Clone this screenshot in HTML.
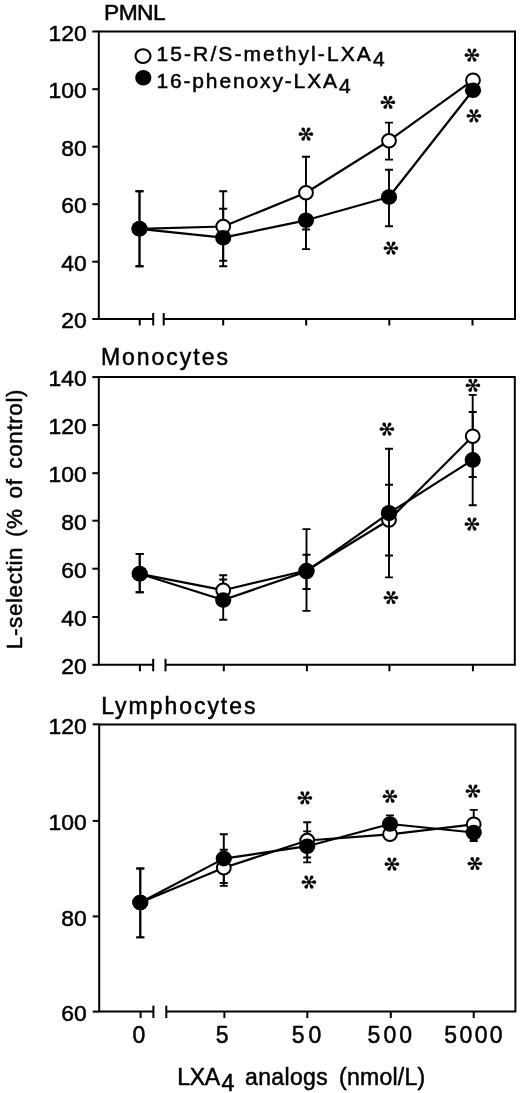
<!DOCTYPE html>
<html><head><meta charset="utf-8"><title>L-selectin LXA4 analogs</title>
<style>
html,body{margin:0;padding:0;background:#fff;}
body{width:520px;height:1093px;overflow:hidden;}
svg{display:block;}
text{font-family:'Liberation Sans', Arial, Helvetica, sans-serif;fill:#000;stroke:#000;stroke-width:0.5px;}
text.a{stroke-width:0.3px;font-family:'DejaVu Sans',sans-serif;font-size:19px;text-anchor:middle;dominant-baseline:central;}
.ax,.ser,.eb{fill:none;stroke:#000;}
.ax{stroke-width:2;}
.ser{stroke-width:2.2;stroke-linejoin:round;}
.eb{stroke-width:1.9;}
line{stroke:#000;}
text.hv{stroke-width:0.9px;}
</style></head>
<body>
<svg width="520" height="1093" viewBox="0 0 520 1093">
<path class="ax" d="M98.8 319 L98.8 31.5 L515 31.5 L515 319 L163.7 319"/>
<path class="ax" d="M97.8 319 L153.2 319"/>
<line x1="153.2" y1="313" x2="153.2" y2="325.5" stroke-width="2"/>
<line x1="163.7" y1="313" x2="163.7" y2="325.5" stroke-width="2"/>
<line x1="139.7" y1="319" x2="139.7" y2="325.5" stroke-width="2"/>
<line x1="223.2" y1="319" x2="223.2" y2="325.5" stroke-width="2"/>
<line x1="306.2" y1="319" x2="306.2" y2="325.5" stroke-width="2"/>
<line x1="389.3" y1="319" x2="389.3" y2="325.5" stroke-width="2"/>
<line x1="472.5" y1="319" x2="472.5" y2="325.5" stroke-width="2"/>
<line x1="92.3" y1="31.5" x2="98.8" y2="31.5" stroke-width="2"/>
<text transform="translate(86.7 40.7) scale(1.04 1)" font-size="22" text-anchor="end">120</text>
<line x1="92.3" y1="89.2" x2="98.8" y2="89.2" stroke-width="2"/>
<text transform="translate(86.7 98.4) scale(1.04 1)" font-size="22" text-anchor="end">100</text>
<line x1="92.3" y1="146.7" x2="98.8" y2="146.7" stroke-width="2"/>
<text transform="translate(86.7 155.9) scale(1.04 1)" font-size="22" text-anchor="end">80</text>
<line x1="92.3" y1="204.2" x2="98.8" y2="204.2" stroke-width="2"/>
<text transform="translate(86.7 213.4) scale(1.04 1)" font-size="22" text-anchor="end">60</text>
<line x1="92.3" y1="261.7" x2="98.8" y2="261.7" stroke-width="2"/>
<text transform="translate(86.7 270.9) scale(1.04 1)" font-size="22" text-anchor="end">40</text>
<line x1="92.3" y1="319" x2="98.8" y2="319" stroke-width="2"/>
<text transform="translate(86.7 328.2) scale(1.04 1)" font-size="22" text-anchor="end">20</text>
<text x="104" y="20.4" font-size="22.8" letter-spacing="-0.55">PMNL</text>
<path class="ser" d="M139.5 228.8 L223.2 226.5 L306 192.8 L389 140.7 L473 80.2"/>
<path class="ser" d="M139.5 228.8 L223.2 237.7 L306 220.3 L389 197 L473 90.3"/>
<path class="eb" d="M139.5 191.3 L139.5 266.3 M135.5 191.3 L143.5 191.3 M135.5 266.3 L143.5 266.3"/>
<path class="eb" d="M223.2 191.3 L223.2 260.8 M219.2 191.3 L227.2 191.3 M219.2 260.8 L227.2 260.8"/>
<path class="eb" d="M306 156.8 L306 229.5 M302 156.8 L310 156.8 M302 229.5 L310 229.5"/>
<path class="eb" d="M389 122.6 L389 159.6 M385 122.6 L393 122.6 M385 159.6 L393 159.6"/>
<path class="eb" d="M139.5 191.3 L139.5 266.3 M135.5 191.3 L143.5 191.3 M135.5 266.3 L143.5 266.3"/>
<path class="eb" d="M223.2 208.8 L223.2 266.3 M219.2 208.8 L227.2 208.8 M219.2 266.3 L227.2 266.3"/>
<path class="eb" d="M306 191.5 L306 249.1 M302 191.5 L310 191.5 M302 249.1 L310 249.1"/>
<path class="eb" d="M389 169.8 L389 226.2 M385 169.8 L393 169.8 M385 226.2 L393 226.2"/>
<ellipse cx="139.5" cy="228.8" rx="6.9" ry="6.75" fill="#fff" stroke="#000" stroke-width="2"/>
<ellipse cx="223.2" cy="226.5" rx="6.9" ry="6.75" fill="#fff" stroke="#000" stroke-width="2"/>
<ellipse cx="306" cy="192.8" rx="6.9" ry="6.75" fill="#fff" stroke="#000" stroke-width="2"/>
<ellipse cx="389" cy="140.7" rx="6.9" ry="6.75" fill="#fff" stroke="#000" stroke-width="2"/>
<ellipse cx="473" cy="80.2" rx="6.9" ry="6.75" fill="#fff" stroke="#000" stroke-width="2"/>
<ellipse cx="139.5" cy="228.8" rx="8.1" ry="7.8" fill="#000"/>
<ellipse cx="223.2" cy="237.7" rx="8.1" ry="7.8" fill="#000"/>
<ellipse cx="306" cy="220.3" rx="8.1" ry="7.8" fill="#000"/>
<ellipse cx="389" cy="197" rx="8.1" ry="7.8" fill="#000"/>
<ellipse cx="473" cy="90.3" rx="8.1" ry="7.8" fill="#000"/>
<text class="a" x="306.2" y="134.3" transform="rotate(90 306.2 134.3)">&#x273B;</text>
<text class="a" x="388.2" y="102.4" transform="rotate(90 388.2 102.4)">&#x273B;</text>
<text class="a" x="390.6" y="248.2" transform="rotate(90 390.6 248.2)">&#x273B;</text>
<text class="a" x="472" y="55.1" transform="rotate(90 472 55.1)">&#x273B;</text>
<text class="a" x="474.2" y="115.9" transform="rotate(90 474.2 115.9)">&#x273B;</text>
<path class="ax" d="M98.8 664.8 L98.8 377 L514.8 377 L514.8 664.8 L165.5 664.8"/>
<path class="ax" d="M97.8 664.8 L153.2 664.8"/>
<line x1="153.2" y1="658.8" x2="153.2" y2="671.3" stroke-width="2"/>
<line x1="165.5" y1="658.8" x2="165.5" y2="671.3" stroke-width="2"/>
<line x1="139.9" y1="664.8" x2="139.9" y2="671.3" stroke-width="2"/>
<line x1="223.8" y1="664.8" x2="223.8" y2="671.3" stroke-width="2"/>
<line x1="306.9" y1="664.8" x2="306.9" y2="671.3" stroke-width="2"/>
<line x1="389.4" y1="664.8" x2="389.4" y2="671.3" stroke-width="2"/>
<line x1="472.9" y1="664.8" x2="472.9" y2="671.3" stroke-width="2"/>
<line x1="92.3" y1="377.1" x2="98.8" y2="377.1" stroke-width="2"/>
<text transform="translate(86.7 386.3) scale(1.04 1)" font-size="22" text-anchor="end">140</text>
<line x1="92.3" y1="425.1" x2="98.8" y2="425.1" stroke-width="2"/>
<text transform="translate(86.7 434.3) scale(1.04 1)" font-size="22" text-anchor="end">120</text>
<line x1="92.3" y1="473.2" x2="98.8" y2="473.2" stroke-width="2"/>
<text transform="translate(86.7 482.4) scale(1.04 1)" font-size="22" text-anchor="end">100</text>
<line x1="92.3" y1="520.7" x2="98.8" y2="520.7" stroke-width="2"/>
<text transform="translate(86.7 529.9) scale(1.04 1)" font-size="22" text-anchor="end">80</text>
<line x1="92.3" y1="568.7" x2="98.8" y2="568.7" stroke-width="2"/>
<text transform="translate(86.7 577.9) scale(1.04 1)" font-size="22" text-anchor="end">60</text>
<line x1="92.3" y1="617" x2="98.8" y2="617" stroke-width="2"/>
<text transform="translate(86.7 626.2) scale(1.04 1)" font-size="22" text-anchor="end">40</text>
<line x1="92.3" y1="664.8" x2="98.8" y2="664.8" stroke-width="2"/>
<text transform="translate(86.7 674) scale(1.04 1)" font-size="22" text-anchor="end">20</text>
<text x="101" y="364.6" font-size="23" letter-spacing="1.96">Monocytes</text>
<path class="ser" d="M139.7 573.8 L223.2 590.2 L306.5 570.5 L389 520 L472.7 436.3"/>
<path class="ser" d="M139.7 573.8 L223.2 600 L306.5 571.4 L389 513.1 L472.7 459.9"/>
<path class="eb" d="M139.7 553.9 L139.7 592.2 M135.7 553.9 L143.7 553.9 M135.7 592.2 L143.7 592.2"/>
<path class="eb" d="M223.2 575.2 L223.2 605 M219.2 575.2 L227.2 575.2 M219.2 605 L227.2 605"/>
<path class="eb" d="M306.5 529.1 L306.5 610.9 M302.5 529.1 L310.5 529.1 M302.5 610.9 L310.5 610.9"/>
<path class="eb" d="M389 484.7 L389 555.5 M385 484.7 L393 484.7 M385 555.5 L393 555.5"/>
<path class="eb" d="M472.7 394.9 L472.7 477 M468.7 394.9 L476.7 394.9 M468.7 477 L476.7 477"/>
<path class="eb" d="M139.7 553.9 L139.7 592.2 M135.7 553.9 L143.7 553.9 M135.7 592.2 L143.7 592.2"/>
<path class="eb" d="M223.2 579.5 L223.2 619.8 M219.2 579.5 L227.2 579.5 M219.2 619.8 L227.2 619.8"/>
<path class="eb" d="M306.5 554.8 L306.5 589 M302.5 554.8 L310.5 554.8 M302.5 589 L310.5 589"/>
<path class="eb" d="M389 448.8 L389 577.4 M385 448.8 L393 448.8 M385 577.4 L393 577.4"/>
<path class="eb" d="M472.7 412 L472.7 505.3 M468.7 412 L476.7 412 M468.7 505.3 L476.7 505.3"/>
<ellipse cx="139.7" cy="573.8" rx="6.9" ry="6.75" fill="#fff" stroke="#000" stroke-width="2"/>
<ellipse cx="223.2" cy="590.2" rx="6.9" ry="6.75" fill="#fff" stroke="#000" stroke-width="2"/>
<ellipse cx="306.5" cy="570.5" rx="6.9" ry="6.75" fill="#fff" stroke="#000" stroke-width="2"/>
<ellipse cx="389" cy="520" rx="6.9" ry="6.75" fill="#fff" stroke="#000" stroke-width="2"/>
<ellipse cx="472.7" cy="436.3" rx="6.9" ry="6.75" fill="#fff" stroke="#000" stroke-width="2"/>
<ellipse cx="139.7" cy="573.8" rx="8.1" ry="7.8" fill="#000"/>
<ellipse cx="223.2" cy="600" rx="8.1" ry="7.8" fill="#000"/>
<ellipse cx="306.5" cy="571.4" rx="8.1" ry="7.8" fill="#000"/>
<ellipse cx="389" cy="513.1" rx="8.1" ry="7.8" fill="#000"/>
<ellipse cx="472.7" cy="459.9" rx="8.1" ry="7.8" fill="#000"/>
<path class="eb" d="M389 513 L389 530"/>
<ellipse cx="389" cy="513.1" rx="8.1" ry="7.8" fill="#000"/>
<text class="a" x="387.4" y="429.3" transform="rotate(90 387.4 429.3)">&#x273B;</text>
<text class="a" x="390.7" y="597.7" transform="rotate(90 390.7 597.7)">&#x273B;</text>
<text class="a" x="473.1" y="385.5" transform="rotate(90 473.1 385.5)">&#x273B;</text>
<text class="a" x="472.4" y="524.1" transform="rotate(90 472.4 524.1)">&#x273B;</text>
<path class="ax" d="M99.2 1011.6 L99.2 724.5 L515.4 724.5 L515.4 1011.6 L166.3 1011.6"/>
<path class="ax" d="M98.2 1011.6 L153.4 1011.6"/>
<line x1="153.4" y1="1005.6" x2="153.4" y2="1018.1" stroke-width="2"/>
<line x1="166.3" y1="1005.6" x2="166.3" y2="1018.1" stroke-width="2"/>
<line x1="140.6" y1="1011.6" x2="140.6" y2="1018.1" stroke-width="2"/>
<line x1="224.4" y1="1011.6" x2="224.4" y2="1018.1" stroke-width="2"/>
<line x1="307.3" y1="1011.6" x2="307.3" y2="1018.1" stroke-width="2"/>
<line x1="390.8" y1="1011.6" x2="390.8" y2="1018.1" stroke-width="2"/>
<line x1="473.7" y1="1011.6" x2="473.7" y2="1018.1" stroke-width="2"/>
<line x1="92.7" y1="724.3" x2="99.2" y2="724.3" stroke-width="2"/>
<text transform="translate(86.7 733.5) scale(1.04 1)" font-size="22" text-anchor="end">120</text>
<line x1="92.7" y1="820.9" x2="99.2" y2="820.9" stroke-width="2"/>
<text transform="translate(86.7 830.1) scale(1.04 1)" font-size="22" text-anchor="end">100</text>
<line x1="92.7" y1="916.4" x2="99.2" y2="916.4" stroke-width="2"/>
<text transform="translate(86.7 925.6) scale(1.04 1)" font-size="22" text-anchor="end">80</text>
<line x1="92.7" y1="1011.6" x2="99.2" y2="1011.6" stroke-width="2"/>
<text transform="translate(86.7 1020.8) scale(1.04 1)" font-size="22" text-anchor="end">60</text>
<text x="101.2" y="713.6" font-size="23" letter-spacing="1.96">Lymphocytes</text>
<path class="ser" d="M140.3 902.5 L223.8 867.8 L307.2 840.5 L390 834.3 L473.7 824.3"/>
<path class="ser" d="M140.3 902.5 L223.8 858.6 L307.2 846.2 L390 824 L473.7 832.5"/>
<path class="eb" d="M140.3 868.5 L140.3 937.4 M136.3 868.5 L144.3 868.5 M136.3 937.4 L144.3 937.4"/>
<path class="eb" d="M223.8 849.8 L223.8 885.9 M219.8 849.8 L227.8 849.8 M219.8 885.9 L227.8 885.9"/>
<path class="eb" d="M307.2 822.3 L307.2 857.5 M303.2 822.3 L311.2 822.3 M303.2 857.5 L311.2 857.5"/>
<path class="eb" d="M473.7 809.9 L473.7 838.7 M469.7 809.9 L477.7 809.9 M469.7 838.7 L477.7 838.7"/>
<path class="eb" d="M140.3 868.5 L140.3 937.4 M136.3 868.5 L144.3 868.5 M136.3 937.4 L144.3 937.4"/>
<path class="eb" d="M223.8 834.2 L223.8 883 M219.8 834.2 L227.8 834.2 M219.8 883 L227.8 883"/>
<path class="eb" d="M307.2 831.4 L307.2 862.4 M303.2 831.4 L311.2 831.4 M303.2 862.4 L311.2 862.4"/>
<path class="eb" d="M390 815.4 L390 832.5 M386 815.4 L394 815.4 M386 832.5 L394 832.5"/>
<path class="eb" d="M473.7 823.5 L473.7 841 M469.7 823.5 L477.7 823.5 M469.7 841 L477.7 841"/>
<ellipse cx="140.3" cy="902.5" rx="6.9" ry="6.75" fill="#fff" stroke="#000" stroke-width="2"/>
<ellipse cx="223.8" cy="867.8" rx="6.9" ry="6.75" fill="#fff" stroke="#000" stroke-width="2"/>
<ellipse cx="307.2" cy="840.5" rx="6.9" ry="6.75" fill="#fff" stroke="#000" stroke-width="2"/>
<ellipse cx="390" cy="834.3" rx="6.9" ry="6.75" fill="#fff" stroke="#000" stroke-width="2"/>
<ellipse cx="473.7" cy="824.3" rx="6.9" ry="6.75" fill="#fff" stroke="#000" stroke-width="2"/>
<ellipse cx="140.3" cy="902.5" rx="8.1" ry="7.8" fill="#000"/>
<ellipse cx="223.8" cy="858.6" rx="8.1" ry="7.8" fill="#000"/>
<ellipse cx="307.2" cy="846.2" rx="8.1" ry="7.8" fill="#000"/>
<ellipse cx="390" cy="824" rx="8.1" ry="7.8" fill="#000"/>
<ellipse cx="473.7" cy="832.5" rx="8.1" ry="7.8" fill="#000"/>
<text class="a" x="305.4" y="798" transform="rotate(90 305.4 798)">&#x273B;</text>
<text class="a" x="308.7" y="882.3" transform="rotate(90 308.7 882.3)">&#x273B;</text>
<text class="a" x="389.5" y="796.4" transform="rotate(90 389.5 796.4)">&#x273B;</text>
<text class="a" x="391.7" y="864.1" transform="rotate(90 391.7 864.1)">&#x273B;</text>
<text class="a" x="473" y="791.1" transform="rotate(90 473 791.1)">&#x273B;</text>
<text class="a" x="475.2" y="863.6" transform="rotate(90 475.2 863.6)">&#x273B;</text>
<ellipse cx="143" cy="56.1" rx="7.5" ry="6.9" fill="#fff" stroke="#000" stroke-width="2.1"/>
<ellipse cx="143.3" cy="77.8" rx="8.1" ry="7.8" fill="#000"/>
<text x="156.5" y="60.5" font-size="21" letter-spacing="2.09">15-R/S-methyl-LXA<tspan dy="5.2">4</tspan></text>
<text x="156.4" y="87.7" font-size="21" letter-spacing="1.86">16-phenoxy-LXA<tspan dy="4.9">4</tspan></text>
<text x="139" y="1042.5" font-size="23" text-anchor="middle">0</text>
<text x="222.1" y="1042.5" font-size="23" text-anchor="middle">5</text>
<text x="308.4" y="1042.5" font-size="23" text-anchor="middle" letter-spacing="3.8">50</text>
<text x="391.4" y="1042.5" font-size="23" text-anchor="middle" letter-spacing="3.1">500</text>
<text x="474.65" y="1042.5" font-size="23" text-anchor="middle" letter-spacing="2.4">5000</text>
<text y="1084.6" font-size="23"><tspan x="177.3" letter-spacing="-0.3">LXA</tspan><tspan x="221.6" y="1090.5">4</tspan><tspan x="245" y="1084.6" letter-spacing="0.36">analogs</tspan><tspan x="339.1" letter-spacing="0.24">(nmol/L)</tspan></text>
<text x="0" y="0" font-size="22.5" text-anchor="middle" letter-spacing="0.6" word-spacing="3" transform="translate(22 519) rotate(-90)">L-selectin (% of control)</text>
</svg>
</body></html>
